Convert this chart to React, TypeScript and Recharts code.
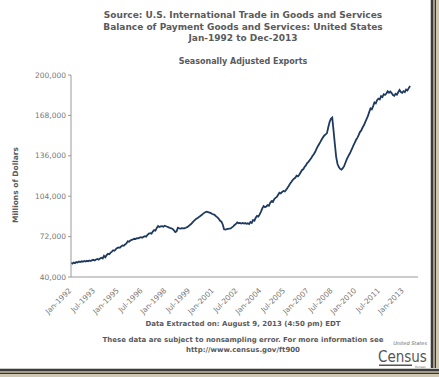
import { LineChart, Line, XAxis, YAxis } from 'recharts';

const xTickMonths = [0, 18, 36, 54, 72, 90, 108, 126, 144, 162, 180, 198, 216, 234, 252];
const xTickLabels = [
  'Jan-1992', 'Jul-1993', 'Jan-1995', 'Jul-1996', 'Jan-1998', 'Jul-1999', 'Jan-2001', 'Jul-2002',
  'Jan-2004', 'Jul-2005', 'Jan-2007', 'Jul-2008', 'Jan-2010', 'Jul-2011', 'Jan-2013',
];
const yTicks = [40000, 72000, 104000, 136000, 168000, 200000];

// monthly exports, millions of dollars, Jan-1992 .. Jun-2013
const exportValues = [
  51300, 50600, 51400, 51000, 51900, 51500, 52200, 51800, 52400, 52100, 52700, 52300,
  52800, 52400, 53100, 52700, 53300, 53600, 53100, 53900, 54300, 53800, 54600, 55200,
  54700, 56800, 55600, 57300, 58400, 58000, 59300, 60100, 61200, 60800, 62100, 62900,
  63400, 63100, 64200, 65000, 64700, 65800, 66600, 68300, 68000, 68900, 69400, 69800,
  70300, 70100, 70800, 70600, 71200, 71500, 71100, 71800, 72300, 72000, 73400, 74400,
  74700, 74300, 76000, 77200, 76800, 78900, 80400, 79600, 80100, 80300, 79900, 80600,
  80200, 79800, 79300, 78900, 78600, 78100, 77000, 75600, 76200, 79000, 78500, 78300,
  78700, 78500, 78600, 79000, 79500, 80200, 81100, 82000, 83100, 84200, 85300, 86100,
  86800, 87600, 88300, 89100, 90000, 90800, 91500, 91800, 91300, 91000, 90600, 89900,
  89600, 89100, 88000, 87200, 86100, 84500, 83800, 81600, 77800, 77500, 77900, 78100,
  78300, 78500, 79300, 80100, 81200, 82000, 83300, 82600, 82900, 82400, 82800, 82300,
  82700, 82100, 82500, 81900, 83600, 82900, 85100, 84600, 86900, 88400, 87900, 89600,
  91800, 94400, 96200, 95300, 95900, 97000, 96400, 98800, 100100, 99500, 101600, 102700,
  103400, 105100, 106800, 106200, 107400, 108100, 107700, 109000, 110500, 112100, 113800, 115200,
  116800, 117900, 118600, 120300, 119700, 121000, 122800, 124600, 125300, 127100, 128400, 130200,
  131200, 132700, 134100, 135800, 137200, 139000, 141300, 143400, 145200, 147000, 148900, 150600,
  152100, 153000, 154000, 158600, 162800, 165300, 166200, 156000, 145000, 135000, 129500, 127000,
  125600, 125000, 126200, 127800, 130500, 133100, 135400, 137200, 139300, 141600, 144100, 146200,
  148500, 150200, 152300, 154800, 156100, 158400, 160200, 162700, 165100, 167400, 170600, 173500,
  172800, 175400, 178300, 177600, 180100, 181300, 180600, 183200, 182500, 184800, 184200, 185300,
  187100, 186000, 186900, 185700, 184200, 183600, 185100, 184400, 186300, 188100, 186500, 185900,
  187200, 186400, 188500, 187800, 189600, 191300,
];

const data = exportValues.map((v, i) => ({ month: i, value: v }));

const font = '"DejaVu Sans", Verdana, sans-serif';
const grey = '#5a5a5a';

function XTick(props: any) {
  const { x, y, payload } = props;
  const label = xTickLabels[xTickMonths.indexOf(payload.value)];
  const tx = x + 1;
  const ty = y + 6;
  return (
    <text x={tx} y={ty} transform={`rotate(-45 ${tx} ${ty})`} textAnchor="end"
      fontSize={7.5} fill="#777" fontFamily={font}>{label}</text>
  );
}

function YLabel() {
  return (
    <text x={18} y={185} transform="rotate(-90 18 185)" textAnchor="middle"
      fontSize={7.5} fontWeight="bold" fill={grey} fontFamily={font}>Millions of Dollars</text>
  );
}

const centred = {
  position: 'absolute' as const, left: 0, width: 430, textAlign: 'center' as const, paddingLeft: 56,
  boxSizing: 'border-box' as const, fontFamily: font, fontWeight: 'bold' as const, color: grey,
};

export default function App() {
  return (
    <div style={{ position: 'absolute', left: 0, top: 0, width: 439, height: 377, background: '#fff', overflow: 'hidden' }}>
      <div style={{ ...centred, top: 10, fontSize: 9, lineHeight: '11.5px' }}>
        <div>Source: U.S. International Trade in Goods and Services</div>
        <div>Balance of Payment Goods and Services: United States</div>
        <div>Jan-1992 to Dec-2013</div>
      </div>
      <div style={{ ...centred, top: 57, fontSize: 8 }}>
        Seasonally Adjusted Exports
      </div>

      <LineChart width={439} height={377} data={data} margin={{ top: 75, right: 21, bottom: 60, left: 21 }}
        style={{ position: 'absolute', left: 0, top: 0 }}>
        <XAxis dataKey="month" type="number" domain={[0, 263]} ticks={xTickMonths} interval={0}
          tick={<XTick />} tickLine={false} axisLine={{ stroke: '#999' }} height={40} allowDataOverflow />
        <XAxis xAxisId="top" orientation="top" dataKey="month" type="number" domain={[0, 263]}
          tick={false} tickLine={false} axisLine={{ stroke: '#999' }} height={0} />
        <YAxis domain={[40000, 200000]} ticks={yTicks} interval={0} width={50} tickSize={3}
          tickLine={{ stroke: '#999' }} axisLine={{ stroke: '#999' }}
          tick={{ fontSize: 7.5, fill: '#777', fontFamily: font }}
          tickFormatter={(v: number) => v.toLocaleString('en-US')}
          label={<YLabel />} />
        <YAxis yAxisId="right" orientation="right" domain={[40000, 200000]} tick={false} tickLine={false}
          axisLine={{ stroke: '#999' }} width={0} />
        <Line type="linear" dataKey="value" stroke="#1f3a60" strokeWidth={1.8} dot={false} isAnimationActive={false} />
      </LineChart>

      <div style={{ ...centred, top: 320, fontSize: 7 }}>
        Data Extracted on: August 9, 2013 (4:50 pm) EDT
      </div>
      <div style={{ ...centred, top: 335, fontSize: 7, lineHeight: '10px' }}>
        <div>These data are subject to nonsampling error. For more information see</div>
        <div>http://www.census.gov/ft900</div>
      </div>

      <svg width={56} height={30} style={{ position: 'absolute', left: 374, top: 338 }}>
        <text x={53} y={7} textAnchor="end" fontSize={5} fontStyle="italic" fill="#666" fontFamily={font}>United States</text>
        <text x={4} y={23.5} fontSize={15} fill="#555" fontFamily='"DejaVu Sans Condensed", "DejaVu Sans", sans-serif'>Census</text>
        <rect x={5} y={26.5} width={33} height={1.5} fill="#555" />
        <text x={41} y={29.5} fontSize={3} fill="#777" fontFamily={font}>Bureau</text>
      </svg>

      <div style={{ position: 'absolute', left: 430, top: 0, width: 9, height: 377,
        background: 'linear-gradient(to right, #c8c8c8 0 1px, #3b3b3b 1px 3px, #a49a88 3px 5px, #333 5px 6px, #cfc6b3 6px 9px)' }} />
      <div style={{ position: 'absolute', left: 0, top: 368, width: 439, height: 9,
        background: 'linear-gradient(to bottom, #c8c8c8 0 1px, #3b3b3b 1px 3px, #a49a88 3px 5px, #333 5px 6px, #cfc6b3 6px 9px)' }} />
    </div>
  );
}
